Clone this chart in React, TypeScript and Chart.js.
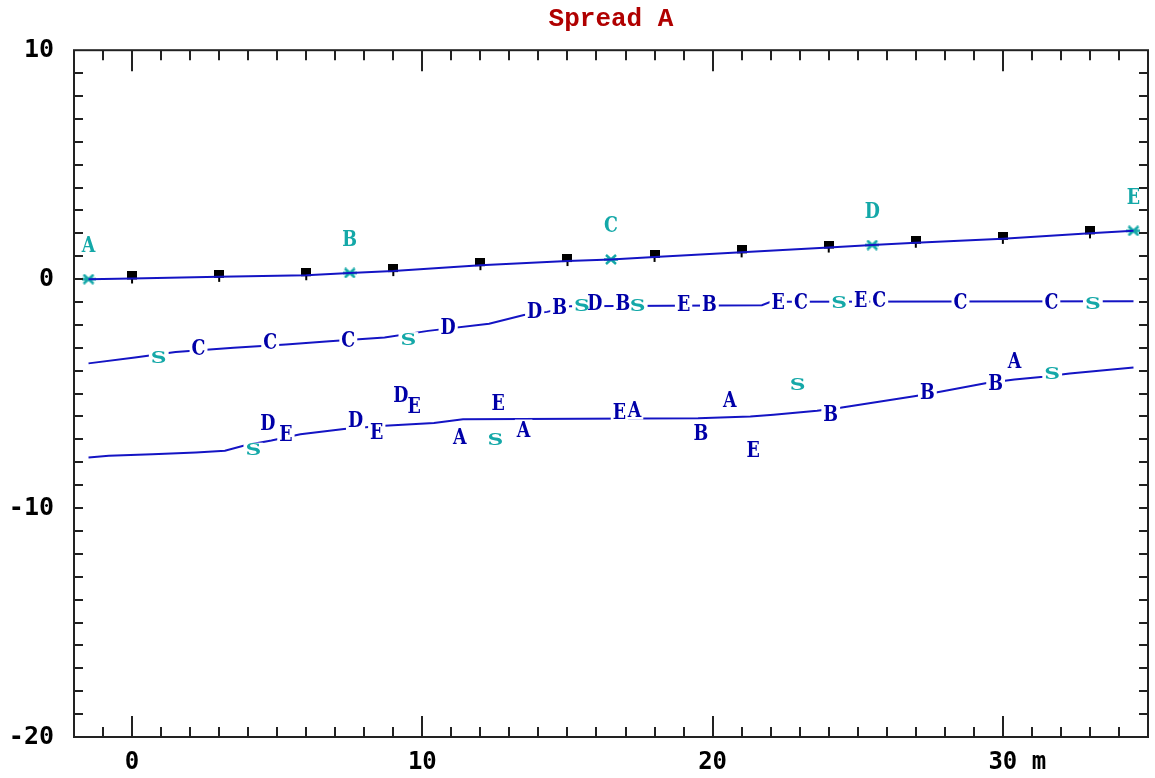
import React, { useEffect, useRef } from "react";
import { Chart, registerables } from "chart.js";

Chart.register(...registerables);

// Axis extents and labelled ticks
const X_MIN = -2;
const X_MAX = 35;
const Y_MIN = -20;
const Y_MAX = 10;
const X_MINOR_STEP = 1;
const X_MAJOR_STEP = 10;
const Y_MINOR_STEP = 1;
const xLabelValues = [0, 10, 20, 30];
const xLabelTexts = ["0", "10", "20", "  30 m"];
const yLabelValues = [10, 0, -10, -20];
const yLabelTexts = ["10", "0", "-10", "-20"];

// Upper trace (reference line)
const upperX = [-1.5, 0, 3, 6, 7.5, 9, 12, 15, 16.5, 18, 21, 24, 25.5, 27, 30, 33, 34.5];
const upperY = [0, 0.03, 0.1, 0.17, 0.27, 0.35, 0.61, 0.79, 0.86, 0.97, 1.17, 1.38, 1.49, 1.59, 1.76, 2.0, 2.11];

// Pegs every 3 m along the upper trace
const pegX = [0, 3, 6, 9, 12, 15, 18, 21, 24, 27, 30, 33];
const pegY = [0.03, 0.1, 0.17, 0.35, 0.61, 0.79, 0.97, 1.17, 1.38, 1.59, 1.76, 2.0];

// Stations on the upper trace
const stationX = [-1.5, 7.5, 16.5, 25.5, 34.5];
const stationY = [0, 0.27, 0.86, 1.49, 2.11];
const stationNames = ["A", "B", "C", "D", "E"];

// Middle trace
const middleX = [-1.5, 0.1, 1.5, 3.5, 5.3, 6.8, 8.7, 10.2, 12.3, 13.5, 14.3, 15.1, 21.7, 22.0, 34.5];
const middleY = [-3.68, -3.42, -3.18, -3.0, -2.86, -2.71, -2.55, -2.26, -1.95, -1.57, -1.43, -1.18, -1.14, -0.99, -0.97];

// Tags along the middle trace
const middleTagX = [0.92, 2.29, 4.76, 7.45, 9.52, 10.89, 13.87, 14.73, 15.5, 15.94, 16.91, 17.42, 19.0, 19.89, 22.26, 23.04, 24.36, 25.1, 25.74, 28.54, 31.67, 33.1];
const middleTagY = [-3.42, -3.03, -2.74, -2.67, -2.64, -2.08, -1.38, -1.21, -1.18, -1.06, -1.06, -1.18, -1.09, -1.09, -0.99, -0.99, -1.03, -0.92, -0.92, -0.99, -0.99, -1.06];
const middleTagText = ["S", "C", "C", "C", "S", "D", "D", "B", "S", "D", "B", "S", "E", "B", "E", "C", "S", "E", "C", "C", "C", "S"];

// Lower trace
const lowerX = [-1.5, -0.8, 0.7, 2.2, 3.2, 3.9, 4.8, 5.8, 7.3, 8.7, 10.4, 11.4, 19.5, 21.3, 22.1, 23.6, 24.4, 27.0, 27.7, 29.4, 30.4, 31.4, 32.3, 34.5];
const lowerY = [-7.79, -7.72, -7.65, -7.57, -7.5, -7.26, -7.05, -6.78, -6.55, -6.4, -6.28, -6.12, -6.08, -6.0, -5.92, -5.75, -5.62, -5.1, -4.95, -4.55, -4.38, -4.26, -4.12, -3.86];

// Tags along the lower trace
const lowerTagX = [4.18, 4.68, 5.3, 7.7, 8.43, 9.26, 9.72, 11.29, 12.61, 12.52, 13.49, 16.79, 17.31, 19.6, 20.59, 21.4, 22.93, 24.07, 27.4, 29.75, 30.4, 31.7];
const lowerTagY = [-7.47, -6.28, -6.77, -6.16, -6.7, -5.07, -5.55, -6.89, -5.41, -7.01, -6.57, -5.8, -5.7, -6.74, -5.26, -7.47, -4.63, -5.9, -4.93, -4.56, -3.57, -4.15];
const lowerTagText = ["S", "D", "E", "D", "E", "D", "E", "A", "E", "S", "A", "E", "A", "B", "A", "E", "S", "B", "B", "B", "A", "S"];

const LINE_BLUE = "#1414c4";
const TAG_BLUE = "#0000a8";
const CYAN = "#14a8a8";
const FRAME = "#222222";

const toPoints = (xs: number[], ys: number[]) => xs.map((x, i) => ({ x, y: ys[i] }));

function makeStarMarker(): HTMLCanvasElement {
  const c = document.createElement("canvas");
  c.width = 14;
  c.height = 11;
  const g = c.getContext("2d")!;
  g.strokeStyle = CYAN;
  g.lineWidth = 2.5;
  g.beginPath();
  g.moveTo(2, 1);
  g.lineTo(12, 10);
  g.moveTo(2, 10);
  g.lineTo(12, 1);
  g.moveTo(0, 5.5);
  g.lineTo(14, 5.5);
  g.stroke();
  return c;
}

function makePegMarker(): HTMLCanvasElement {
  const c = document.createElement("canvas");
  c.width = 10;
  c.height = 14;
  const g = c.getContext("2d")!;
  g.fillStyle = "#000000";
  g.fillRect(0, 0, 10, 8);
  g.fillRect(4, 8, 2, 4);
  return c;
}

// Frame with inward ticks on all four sides
const frameTicks = {
  id: "frameTicks",
  afterDatasetsDraw(chart: any) {
    const { ctx, chartArea: a, scales } = chart;
    const xs = scales.x;
    const ys = scales.y;
    ctx.save();
    ctx.strokeStyle = FRAME;
    ctx.lineWidth = 2;
    ctx.beginPath();
    for (let v = Math.ceil(X_MIN / X_MINOR_STEP) * X_MINOR_STEP; v <= X_MAX; v += X_MINOR_STEP) {
      if (v <= X_MIN || v >= X_MAX) continue;
      const px = Math.round(xs.getPixelForValue(v));
      const len = v % X_MAJOR_STEP === 0 ? 21 : 10;
      ctx.moveTo(px, a.top);
      ctx.lineTo(px, a.top + len);
      ctx.moveTo(px, a.bottom);
      ctx.lineTo(px, a.bottom - len);
    }
    for (let v = Y_MIN + Y_MINOR_STEP; v < Y_MAX; v += Y_MINOR_STEP) {
      const py = Math.round(ys.getPixelForValue(v));
      ctx.moveTo(a.left, py);
      ctx.lineTo(a.left + 9, py);
      ctx.moveTo(a.right, py);
      ctx.lineTo(a.right - 9, py);
    }
    ctx.stroke();
    ctx.strokeRect(a.left, a.top, a.right - a.left, a.bottom - a.top);
    ctx.restore();
  },
};

const TAG_FONT = 'bold 23px "DejaVu Serif", "Liberation Serif", serif';

function tagScale(text: string) {
  return text === "S" ? { sx: 0.95, sy: 0.72 } : { sx: 0.76, sy: 1.0 };
}

// Letters drawn at dataset points; tags knock the trace out behind them
const tagLabels = {
  id: "tagLabels",
  afterDatasetsDraw(chart: any) {
    const { ctx } = chart;
    const items: { text: string; x: number; y: number; color: string; knock: boolean }[] = [];
    chart.data.datasets.forEach((ds: any, i: number) => {
      if (!ds.tags) return;
      const meta = chart.getDatasetMeta(i);
      meta.data.forEach((pt: any, j: number) => {
        const text = ds.tags[j];
        items.push({
          text,
          x: pt.x,
          y: pt.y + (ds.tagDy || 0),
          color: ds.tagColor ? ds.tagColor(text) : TAG_BLUE,
          knock: !!ds.knockOut,
        });
      });
    });
    ctx.save();
    ctx.font = TAG_FONT;
    ctx.fillStyle = "#ffffff";
    for (const it of items) {
      if (!it.knock) continue;
      const { sx, sy } = tagScale(it.text);
      const w = ctx.measureText(it.text).width * sx + 4;
      const h = 18 * sy + 2;
      ctx.fillRect(it.x - w / 2, it.y - h / 2, w, h);
    }
    ctx.textAlign = "center";
    ctx.textBaseline = "middle";
    for (const it of items) {
      const { sx, sy } = tagScale(it.text);
      ctx.save();
      ctx.translate(it.x, it.y + 1);
      ctx.scale(sx, sy);
      ctx.fillStyle = it.color;
      ctx.fillText(it.text, 0, 0);
      ctx.restore();
    }
    ctx.restore();
  },
};

const tagColor = (t: string) => (t === "S" ? CYAN : TAG_BLUE);

export default function App() {
  const ref = useRef<HTMLCanvasElement>(null);

  useEffect(() => {
    const canvas = ref.current;
    if (!canvas) return;
    const lineStyle = {
      showLine: true,
      borderColor: LINE_BLUE,
      borderWidth: 2,
      pointRadius: 0,
      tension: 0,
    };
    const chart = new Chart(canvas, {
      type: "scatter",
      data: {
        datasets: [
          { label: "upper", data: toPoints(upperX, upperY), ...lineStyle } as any,
          { label: "middle", data: toPoints(middleX, middleY), ...lineStyle } as any,
          { label: "lower", data: toPoints(lowerX, lowerY), ...lineStyle } as any,
          {
            label: "pegs",
            data: toPoints(pegX, pegY),
            showLine: false,
            pointStyle: makePegMarker(),
            pointRadius: 6,
          } as any,
          {
            label: "stations",
            data: toPoints(stationX, stationY),
            showLine: false,
            pointStyle: makeStarMarker(),
            pointRadius: 6,
            tags: stationNames,
            tagDy: -34,
            tagColor: () => CYAN,
          } as any,
          {
            label: "middle tags",
            data: toPoints(middleTagX, middleTagY),
            showLine: false,
            pointRadius: 0,
            tags: middleTagText,
            tagColor,
            knockOut: true,
          } as any,
          {
            label: "lower tags",
            data: toPoints(lowerTagX, lowerTagY),
            showLine: false,
            pointRadius: 0,
            tags: lowerTagText,
            tagColor,
            knockOut: true,
          } as any,
        ],
      },
      options: {
        responsive: false,
        animation: false,
        events: [],
        layout: { padding: { top: 0, right: 3, bottom: 0, left: 0 } },
        plugins: {
          legend: { display: false },
          tooltip: { enabled: false },
          title: {
            display: true,
            text: "Spread A",
            color: "#b00000",
            fullSize: false,
            font: { family: '"Liberation Mono", "DejaVu Sans Mono", monospace', size: 26, weight: "bold", lineHeight: 1.2 },
            padding: { top: 4, bottom: 15 },
          },
        },
        scales: {
          x: {
            type: "linear",
            min: X_MIN,
            max: X_MAX,
            grid: { display: false, drawTicks: false },
            border: { display: false },
            ticks: {
              color: "#000000",
              padding: 11,
              maxRotation: 0,
              autoSkip: false,
              font: { family: '"DejaVu Sans Mono", monospace', size: 24, weight: "bold" },
              callback: (v: any) => {
                const i = xLabelValues.indexOf(Number(v));
                return i >= 0 ? xLabelTexts[i] : "";
              },
            },
            afterBuildTicks: (s: any) => {
              s.ticks = xLabelValues.map((value) => ({ value }));
            },
            afterFit: (s: any) => {
              s.height = 41;
              s.paddingLeft = 0;
              s.paddingRight = 0;
            },
          },
          y: {
            type: "linear",
            min: Y_MIN,
            max: Y_MAX,
            grid: { display: false, drawTicks: false },
            border: { display: false },
            ticks: {
              color: "#000000",
              padding: 20,
              autoSkip: false,
              font: { family: '"DejaVu Sans Mono", monospace', size: 25, weight: "bold" },
              callback: (v: any) => {
                const i = yLabelValues.indexOf(Number(v));
                return i >= 0 ? yLabelTexts[i] : "";
              },
            },
            afterBuildTicks: (s: any) => {
              s.ticks = yLabelValues.map((value) => ({ value }));
            },
            afterFit: (s: any) => {
              s.width = 74;
            },
          },
        },
      } as any,
      plugins: [frameTicks, tagLabels],
    });
    return () => chart.destroy();
  }, []);

  return (
    <div style={{ position: "fixed", left: 0, top: 0, width: 1155, height: 778, background: "#ffffff" }}>
      <canvas ref={ref} width={1155} height={778} style={{ display: "block" }} />
    </div>
  );
}
